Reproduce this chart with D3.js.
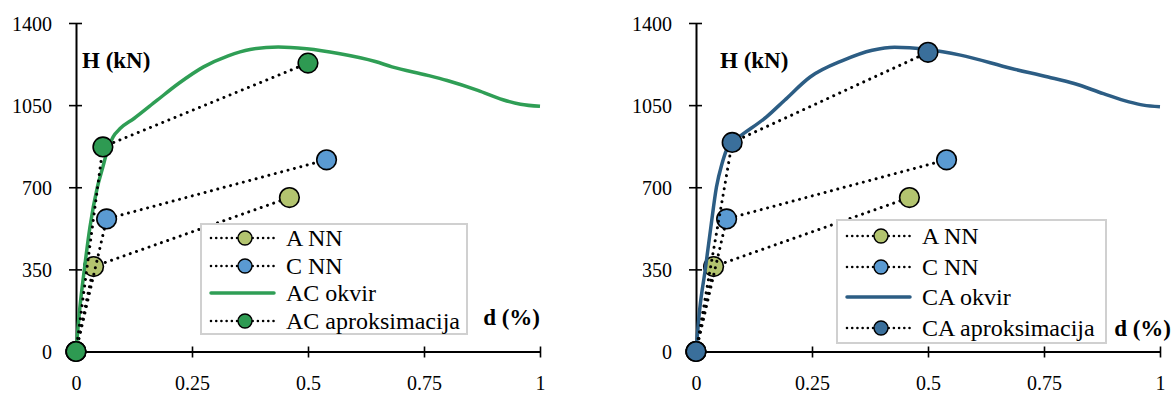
<!DOCTYPE html>
<html>
<head>
<meta charset="utf-8">
<script src="https://cdn.jsdelivr.net/npm/d3@7"></script>
<style>
  html, body { margin: 0; padding: 0; background: #fff; }
  svg { display: block; font-family: "Liberation Serif", "Times New Roman", serif; }
</style>
</head>
<body>
<svg id="chart" width="1175" height="394"></svg>
<script>
// ---- data ----
const xTicks = [0, 0.25, 0.5, 0.75, 1];
const xTickLabels = ["0", "0.25", "0.5", "0.75", "1"];
const yTicks = [0, 350, 700, 1050, 1400];
const yTickLabels = ["0", "350", "700", "1050", "1400"];

// A NN and C NN (same in both panels)
const dA_NN = [0, 0.038, 0.46];
const hA_NN = [0, 362, 656];
const dC_NN = [0, 0.066, 0.54];
const hC_NN = [0, 565, 817];

// AC okvir (left frame curve)
const dAC_okvir = [0, 0.008, 0.018, 0.03, 0.046, 0.058, 0.068, 0.08, 0.095, 0.125, 0.175, 0.221, 0.275, 0.328, 0.375, 0.436, 0.497, 0.566, 0.645, 0.681, 0.758, 0.8, 0.866, 0.92, 0.958, 1.0];
const hAC_okvir = [0, 180, 350, 530, 700, 787, 860, 915, 950, 993, 1071, 1142, 1213, 1260, 1287, 1298, 1290, 1270, 1236, 1213, 1177, 1155, 1113, 1073, 1054, 1045];
// AC aproksimacija
const dAC_apr = [0, 0.058, 0.5];
const hAC_apr = [0, 872, 1229];

// CA okvir (right frame curve)
const dCA_okvir = [0, 0.008, 0.02, 0.032, 0.044, 0.056, 0.066, 0.078, 0.1, 0.152, 0.191, 0.246, 0.317, 0.38, 0.428, 0.499, 0.57, 0.68, 0.759, 0.815, 0.878, 0.933, 0.964, 1.0];
const hCA_okvir = [0, 180, 350, 530, 700, 800, 860, 893, 925, 1000, 1071, 1170, 1241, 1284, 1297, 1287, 1263, 1206, 1170, 1142, 1099, 1064, 1050, 1043];
// CA aproksimacija
const dCA_apr = [0, 0.078, 0.5];
const hCA_apr = [0, 891, 1275];

const zip = (a, b) => a.map((v, i) => [v, b[i]]);

// ---- styling ----
const colA = "#b3c46f";
const colC = "#5a9ad2";
const colACline = "#2f9e55";
const colACpt = "#2e9a52";
const colCAline = "#2c5d84";
const colCApt = "#3a6f9b";

const panels = [
  {
    x0: 76, x1: 540, yb: 351.5, yt: 23,
    curve: zip(dAC_okvir, hAC_okvir), apr: zip(dAC_apr, hAC_apr),
    lineCol: colACline, ptCol: colACpt,
    names: ["A NN", "C NN", "AC okvir", "AC aproksimacija"],
    legend: { x: 201, y: 224, w: 266, h: 110, rows: [238, 266, 293, 321] },
    hTitle: { x: 82, y: 68 }, dTitle: { x: 540, y: 325 },
    labelX: 52
  },
  {
    x0: 696, x1: 1160, yb: 351.5, yt: 23,
    curve: zip(dCA_okvir, hCA_okvir), apr: zip(dCA_apr, hCA_apr),
    lineCol: colCAline, ptCol: colCApt,
    names: ["A NN", "C NN", "CA okvir", "CA aproksimacija"],
    legend: { x: 837, y: 220, w: 269, h: 123, rows: [236, 267, 297, 328] },
    hTitle: { x: 720, y: 68 }, dTitle: { x: 1171, y: 336 },
    labelX: 672
  }
];

const svg = d3.select("#chart");
svg.append("rect").attr("width", 1175).attr("height", 394).attr("fill", "#fff");

const dotted = sel => sel.attr("fill", "none").attr("stroke", "#000")
  .attr("stroke-width", 3).attr("stroke-linecap", "round").attr("stroke-dasharray", "0.01 6.6");

panels.forEach(p => {
  const g = svg.append("g");
  const x = d3.scaleLinear().domain([0, 1]).range([p.x0, p.x1]);
  const y = d3.scaleLinear().domain([0, 1400]).range([p.yb, p.yt]);

  // y axis
  const yAxis = d3.axisLeft(y).tickValues(yTicks).tickFormat((d, i) => yTickLabels[i])
    .tickSizeInner(6).tickSizeOuter(0).tickPadding(0);
  const ya = g.append("g").attr("transform", `translate(${p.x0},0)`).call(yAxis)
    .attr("font-family", "Liberation Serif");
  ya.select(".domain").attr("stroke", "#000").attr("stroke-width", 2);
  ya.selectAll(".tick line").attr("x1", -7).attr("x2", 6).attr("stroke", "#000").attr("stroke-width", 1.6);
  ya.selectAll(".tick text").attr("x", p.labelX - p.x0).attr("dy", "0.35em")
    .attr("font-size", 20).attr("fill", "#000");

  // x axis
  const xAxis = d3.axisBottom(x).tickValues(xTicks).tickFormat((d, i) => xTickLabels[i])
    .tickSizeInner(6).tickSizeOuter(0).tickPadding(0);
  const xa = g.append("g").attr("transform", `translate(0,${p.yb})`).call(xAxis)
    .attr("font-family", "Liberation Serif");
  xa.select(".domain").attr("stroke", "#000").attr("stroke-width", 2.2);
  xa.selectAll(".tick line").attr("y1", -5).attr("y2", 6).attr("stroke", "#000").attr("stroke-width", 1.6);
  xa.selectAll(".tick text").attr("y", 38).attr("dy", 0)
    .attr("font-size", 20).attr("fill", "#000");

  // axis titles
  g.append("text").attr("x", p.hTitle.x).attr("y", p.hTitle.y).attr("font-weight", "bold")
    .attr("font-size", 23).text("H (kN)");
  g.append("text").attr("x", p.dTitle.x).attr("y", p.dTitle.y).attr("font-weight", "bold")
    .attr("font-size", 23).attr("text-anchor", "end").text("d (%)");

  const straight = d3.line().x(d => x(d[0])).y(d => y(d[1]));
  const smooth = d3.line().x(d => x(d[0])).y(d => y(d[1])).curve(d3.curveMonotoneX);

  const drawMarkers = (data, fill) => {
    g.append("g").selectAll("circle").data(data).join("circle")
      .attr("cx", d => x(d[0])).attr("cy", d => y(d[1])).attr("r", 9.8)
      .attr("fill", fill).attr("stroke", "#000").attr("stroke-width", 1.6);
  };

  // A NN
  const aData = zip(dA_NN, hA_NN);
  g.append("path").datum(aData).attr("d", straight).call(dotted);
  drawMarkers(aData, colA);
  // C NN
  const cData = zip(dC_NN, hC_NN);
  g.append("path").datum(cData).attr("d", straight).call(dotted);
  drawMarkers(cData, colC);
  // okvir
  g.append("path").datum(p.curve).attr("d", smooth).attr("fill", "none")
    .attr("stroke", p.lineCol).attr("stroke-width", 3.5).attr("stroke-linejoin", "round");
  // aproksimacija
  g.append("path").datum(p.apr).attr("d", straight).call(dotted);
  drawMarkers(p.apr, p.ptCol);

  // legend
  const L = p.legend;
  const lg = g.append("g");
  lg.append("rect").attr("x", L.x).attr("y", L.y).attr("width", L.w).attr("height", L.h)
    .attr("fill", "#fff").attr("stroke", "#d0d0d0").attr("stroke-width", 2);
  const fills = [colA, colC, null, p.ptCol];
  L.rows.forEach((ry, i) => {
    const lx1 = L.x + 10, lx2 = L.x + 73, mx = L.x + 44;
    if (fills[i] === null) {
      lg.append("line").attr("x1", lx1).attr("x2", lx2).attr("y1", ry).attr("y2", ry)
        .attr("stroke", p.lineCol).attr("stroke-width", 3.5).attr("stroke-linecap", "round");
    } else {
      lg.append("line").attr("x1", lx1).attr("x2", lx2).attr("y1", ry).attr("y2", ry)
        .attr("stroke", "#000").attr("stroke-width", 2.6).attr("stroke-linecap", "round")
        .attr("stroke-dasharray", "0.01 5.2");
      lg.append("circle").attr("cx", mx).attr("cy", ry).attr("r", 7)
        .attr("fill", fills[i]).attr("stroke", "#000").attr("stroke-width", 1.4);
    }
    lg.append("text").attr("x", L.x + 85).attr("y", ry).attr("dy", "0.35em")
      .attr("font-size", 24).attr("fill", "#000").text(p.names[i]);
  });
});
</script>
</body>
</html>
